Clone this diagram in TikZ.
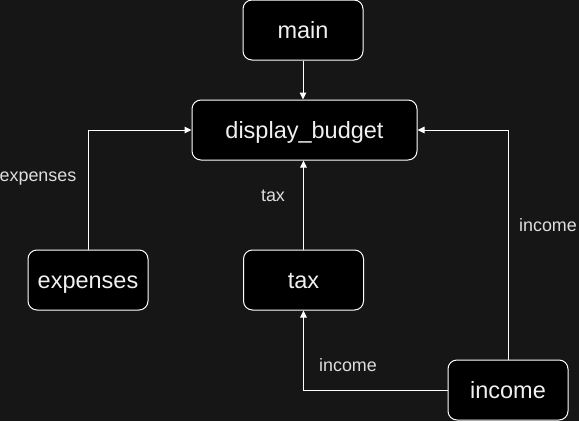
\documentclass[tikz,border=0pt]{standalone}
\usepackage{fontspec}
\setmainfont{Liberation Sans}
\usetikzlibrary{arrows.meta}
\definecolor{bg}{RGB}{22,22,22}
\definecolor{txt}{RGB}{240,240,240}
\definecolor{lbl}{RGB}{222,222,222}
\begin{document}
\begin{tikzpicture}[x=1pt,y=-1pt,
 box/.style={draw=white, fill=black, rounded corners=9pt, minimum width=120pt, minimum height=60pt, line width=1pt, text=txt, font=\fontsize{23.5}{28}\selectfont, inner sep=0pt, text height=19pt, text depth=2.8pt},
 conn/.style={draw=white, line width=1pt, -{Triangle[length=7pt,width=6.5pt]}},
 lab/.style={text=lbl, font=\fontsize{17.9}{21}\selectfont, inner sep=0pt, text height=15pt, text depth=1.7pt}]
\fill[bg] (0,0) rectangle (579,421);
\useasboundingbox (0,0) rectangle (579,421);
\node[box] (main) at (303,30) {main};
\node[box, minimum width=225pt] (db) at (304.5,130) {display\_budget};
\node[box] (exp) at (88,280) {expenses};
\node[box] (tax) at (303.5,280) {tax};
\node[box] (inc) at (508,390) {income};
\draw[conn] (main.south) -- (main.south |- db.north);
\draw[conn] (exp.north) |- (db.west);
\draw[conn] (tax.north) -- (tax.north |- db.south);
\draw[conn] (inc.north) |- (db.east);
\draw[conn] (inc.west) -| (tax.south);
\node[lab] (lexp) at (38,175) {expenses};
\node[lab] (ltax) at (273,195) {tax};
\node[lab] (linca) at (548,225) {income};
\node[lab] (lincb) at (348,365) {income};
\end{tikzpicture}
\end{document}
